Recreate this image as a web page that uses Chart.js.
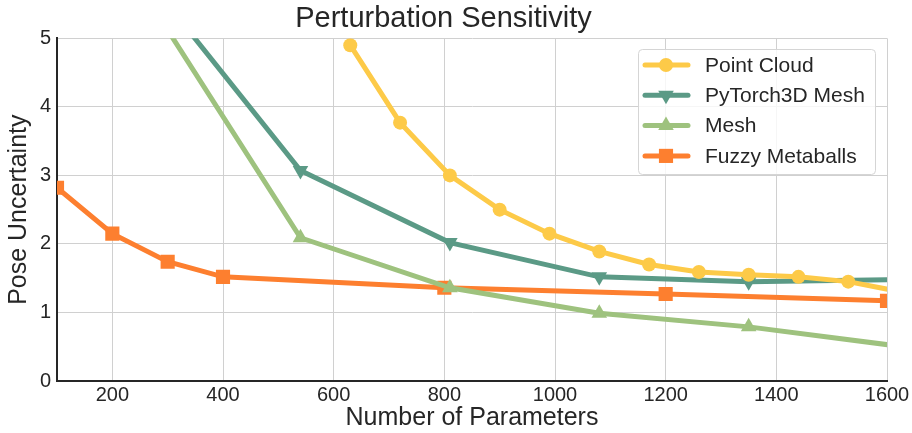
<!DOCTYPE html>
<html>
<head>
<meta charset="utf-8">
<script src="https://cdn.jsdelivr.net/npm/chart.js@4/dist/chart.umd.min.js"></script>
<style>
  html, body { margin: 0; padding: 0; background: #fff; }
  #wrap { width: 912px; height: 433px; }
</style>
</head>
<body>
<div id="wrap"><canvas id="chart"></canvas></div>
<script>
// values
var pointCloudX = [630, 720, 810, 900, 990, 1080, 1170, 1260, 1350, 1440, 1530, 1620];
var pointCloudY = [4.9, 3.77, 3.0, 2.5, 2.15, 1.89, 1.70, 1.59, 1.55, 1.52, 1.45, 1.31];

var pytorchX = [270, 540, 810, 1080, 1350, 1620];
var pytorchY = [5.8, 3.07, 2.02, 1.52, 1.45, 1.48];

var meshX = [270, 540, 810, 1080, 1350, 1620];
var meshY = [5.5, 2.09, 1.36, 0.99, 0.79, 0.51];

var fuzzyX = [100, 200, 300, 400, 800, 1200, 1600];
var fuzzyY = [2.82, 2.15, 1.74, 1.52, 1.36, 1.27, 1.17];

var xTicks = [200, 400, 600, 800, 1000, 1200, 1400, 1600];
var yTicks = [0, 1, 2, 3, 4, 5];

var FONT = "'Liberation Sans', Arial, sans-serif";
var TEXT = '#262626';

function pairs(xs, ys) {
  return xs.map(function (x, i) { return { x: x, y: ys[i] }; });
}

function series(label, xs, ys, color, style, radius, rotation) {
  return {
    label: label,
    data: pairs(xs, ys),
    borderColor: color,
    backgroundColor: color,
    borderWidth: 5,
    pointStyle: style,
    pointRadius: radius,
    pointHoverRadius: radius,
    pointRotation: rotation || 0,
    pointBorderWidth: 0,
    clip: 0,
    tension: 0
  };
}

function marker(ctx, style, x, y, r, rot) {
  ctx.beginPath();
  if (style === 'circle') {
    ctx.arc(x, y, r, 0, Math.PI * 2);
  } else if (style === 'rect') {
    var s = r * Math.SQRT1_2;
    ctx.rect(x - s, y - s, 2 * s, 2 * s);
  } else {
    var a = rot * Math.PI / 180;
    for (var k = 0; k < 3; k++) {
      var px = x + Math.sin(a) * r, py = y - Math.cos(a) * r;
      if (k === 0) ctx.moveTo(px, py); else ctx.lineTo(px, py);
      a += Math.PI * 2 / 3;
    }
    ctx.closePath();
  }
  ctx.fill();
}

// legend drawn inside the plot, line + marker like matplotlib
var legendInside = {
  id: 'legendInside',
  afterDraw: function (chart) {
    var ctx = chart.ctx;
    var x0 = 638, y0 = 49, w = 237, h = 125;
    ctx.save();
    ctx.fillStyle = 'rgba(255,255,255,0.8)';
    ctx.strokeStyle = '#d5d5d5';
    ctx.lineWidth = 1;
    ctx.beginPath();
    ctx.roundRect(x0 + 0.5, y0 + 0.5, w, h, 4);
    ctx.fill();
    ctx.stroke();
    ctx.font = '21px ' + FONT;
    ctx.textBaseline = 'middle';
    chart.data.datasets.forEach(function (ds, i) {
      var cy = 65 + i * 30.3;
      ctx.strokeStyle = ds.borderColor;
      ctx.fillStyle = ds.borderColor;
      ctx.lineWidth = 5;
      ctx.lineCap = 'round';
      ctx.beginPath();
      ctx.moveTo(645, cy);
      ctx.lineTo(688, cy);
      ctx.stroke();
      marker(ctx, ds.pointStyle, 666, cy, ds.pointRadius, ds.pointRotation);
      ctx.fillStyle = TEXT;
      ctx.fillText(ds.label, 705, cy + 1);
    });
    ctx.restore();
  }
};

function plain(v) { return String(v); }

new Chart(document.getElementById('chart'), {
  type: 'line',
  data: {
    datasets: [
      series('Point Cloud', pointCloudX, pointCloudY, '#fdca48', 'circle', 7),
      series('PyTorch3D Mesh', pytorchX, pytorchY, '#5b9a86', 'triangle', 9, 180),
      series('Mesh', meshX, meshY, '#9ec27e', 'triangle', 9, 0),
      series('Fuzzy Metaballs', fuzzyX, fuzzyY, '#fd7f2f', 'rect', 10)
    ]
  },
  plugins: [legendInside],
  options: {
    responsive: true,
    maintainAspectRatio: false,
    animation: false,
    events: [],
    layout: { padding: { top: 0, right: 25, bottom: 0, left: 0 } },
    plugins: {
      legend: { display: false },
      tooltip: { enabled: false },
      title: {
        display: true,
        text: 'Perturbation Sensitivity',
        color: TEXT,
        font: { family: FONT, size: 29, weight: 'normal', lineHeight: 1.15 },
        padding: { top: 2, bottom: 3 }
      }
    },
    scales: {
      x: {
        type: 'linear',
        min: 100,
        max: 1600,
        afterBuildTicks: function (scale) {
          scale.ticks = xTicks.map(function (v) { return { value: v }; });
        },
        afterFit: function (scale) { scale.height = 52; },
        ticks: {
          color: TEXT,
          padding: 2,
          maxRotation: 0,
          callback: plain,
          font: { family: FONT, size: 20 }
        },
        grid: { color: '#d0d0d0', lineWidth: 1, drawTicks: false },
        border: { display: true, color: TEXT, width: 2 },
        title: {
          display: true,
          text: 'Number of Parameters',
          color: TEXT,
          padding: { top: 2, bottom: 0 },
          font: { family: FONT, size: 25 }
        }
      },
      y: {
        min: 0,
        max: 5,
        afterBuildTicks: function (scale) {
          scale.ticks = yTicks.map(function (v) { return { value: v }; });
        },
        afterFit: function (scale) { scale.width = 57; },
        ticks: {
          color: TEXT,
          padding: 6,
          callback: plain,
          font: { family: FONT, size: 20 }
        },
        grid: { color: '#d0d0d0', lineWidth: 1, drawTicks: false },
        border: { display: true, color: TEXT, width: 2 },
        title: {
          display: true,
          text: 'Pose Uncertainty',
          color: TEXT,
          padding: { top: 4, bottom: 0 },
          font: { family: FONT, size: 25 }
        }
      }
    }
  }
});
</script>
</body>
</html>
